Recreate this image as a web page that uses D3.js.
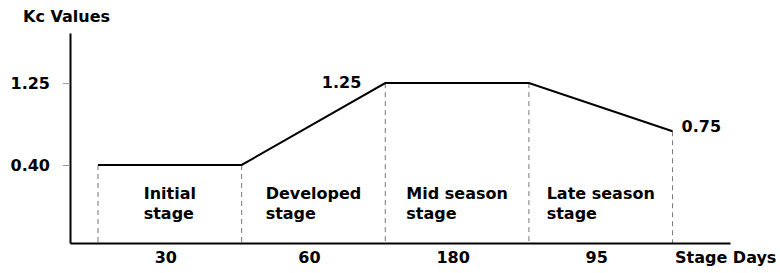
<!DOCTYPE html>
<html>
<head>
<meta charset="utf-8">
<script src="https://cdn.jsdelivr.net/npm/d3@7"></script>
<style>
  body { margin: 0; background: #fff; }
  text { font-family: 'DejaVu Sans', Verdana, sans-serif; font-weight: bold; fill: #000; }
</style>
</head>
<body>
<svg id="vis" width="780" height="273"></svg>
<script>
// Data
const stageLabels = [
  ['Initial', 'stage'],
  ['Developed', 'stage'],
  ['Mid season', 'stage'],
  ['Late season', 'stage'],
];
const stageDays = [30, 60, 180, 95];
// Kc at each stage boundary (start of initial .. end of late season)
const kcValues = [0.4, 0.4, 1.25, 1.25, 0.75];
const yTicks = [0.4, 1.25];
const pointLabels = [
  { at: 2, text: '1.25' },
  { at: 4, text: '0.75' },
];

const svg = d3.select('#vis');
const width = +svg.attr('width');
const height = +svg.attr('height');

const margin = { top: 33, right: 50, bottom: 30, left: 70 };

// x: stage boundary index
const x = d3
  .scaleLinear()
  .domain([-0.195, 4.4])
  .range([margin.left, width - margin.right]);

const y = d3
  .scaleLinear()
  .domain([-0.41, 1.77])
  .range([height - margin.bottom, margin.top]);

const x0 = height - margin.bottom;

// Dashed stage boundaries
svg
  .append('g')
  .selectAll('line')
  .data(kcValues)
  .enter()
  .append('line')
  .attr('x1', (d, i) => x(i))
  .attr('x2', (d, i) => x(i))
  .attr('y1', d => y(d))
  .attr('y2', x0)
  .attr('stroke', '#777')
  .attr('stroke-width', 1)
  .attr('stroke-dasharray', '5,4');

// Kc curve
const line = d3
  .line()
  .x((d, i) => x(i))
  .y(d => y(d));

svg
  .append('path')
  .datum(kcValues)
  .attr('d', line)
  .attr('fill', 'none')
  .attr('stroke', '#000')
  .attr('stroke-width', 2);

// y axis
const yAxis = svg
  .append('g')
  .attr('transform', `translate(${margin.left},0)`)
  .call(
    d3
      .axisLeft(y)
      .tickValues(yTicks)
      .tickFormat(d3.format('.2f'))
      .tickSize(7)
      .tickSizeOuter(0)
      .tickPadding(13)
  );
yAxis.select('.domain').attr('stroke', '#000').attr('stroke-width', 2);
yAxis.selectAll('.tick line').attr('stroke', '#999');
yAxis
  .selectAll('.tick text')
  .style('font-size', '16px')
  .style('font-family', "'DejaVu Sans', Verdana, sans-serif")
  .style('font-weight', 'bold')
  .attr('fill', '#000');

// x axis (no ticks)
const xAxis = svg
  .append('g')
  .attr('transform', `translate(0,${x0})`)
  .call(d3.axisBottom(x).tickValues([]).tickSizeOuter(0));
xAxis.select('.domain').attr('stroke', '#000').attr('stroke-width', 2);

// Axis titles
svg
  .append('text')
  .attr('x', 23)
  .attr('y', 22)
  .style('font-size', '16px')
  .text('Kc Values');

svg
  .append('text')
  .attr('x', 675)
  .attr('y', 263)
  .style('font-size', '16px')
  .text('Stage Days');

// Stage names, left-aligned block centred in each stage
const stageG = svg
  .selectAll('g.stage')
  .data(stageLabels)
  .enter()
  .append('g')
  .attr('class', 'stage');

stageG.each(function (lines, i) {
  const g = d3.select(this);
  const t = g
    .append('text')
    .style('font-size', '16px');
  lines.forEach((s, j) => {
    t.append('tspan').attr('x', 0).attr('y', 199 + j * 20).text(s);
  });
  const w = t.node().getBBox().width;
  const cx = (x(i) + x(i + 1)) / 2;
  g.attr('transform', `translate(${cx - w / 2},0)`);
});

// Stage days under the axis
svg
  .selectAll('text.days')
  .data(stageDays)
  .enter()
  .append('text')
  .attr('class', 'days')
  .attr('x', (d, i) => (x(i) + x(i + 1)) / 2 - 4)
  .attr('y', 263)
  .attr('text-anchor', 'middle')
  .style('font-size', '16px')
  .text(d => d);

// Value labels at points
svg
  .selectAll('text.pt')
  .data(pointLabels)
  .enter()
  .append('text')
  .attr('class', 'pt')
  .attr('x', d => (d.at === 4 ? x(d.at) + 9 : x(d.at) - 24))
  .attr('y', d => (d.at === 4 ? y(kcValues[d.at]) + 1 : y(kcValues[d.at]) + 5))
  .attr('text-anchor', d => (d.at === 4 ? 'start' : 'end'))
  .style('font-size', '16px')
  .text(d => d.text);
</script>
</body>
</html>
